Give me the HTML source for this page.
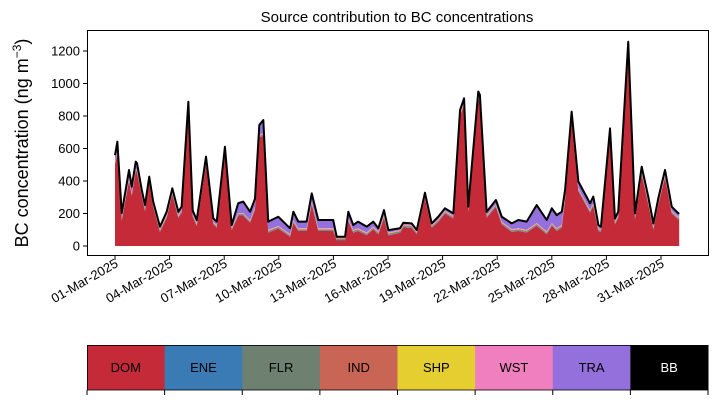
<!DOCTYPE html>
<html><head><meta charset="utf-8"><style>
body{margin:0;background:#fff;}
svg{display:block;font-family:"Liberation Sans",sans-serif;}
</style></head><body>
<svg id="c" width="716" height="402"></svg>
<script>
const days=[0,0.13,0.37,0.77,0.92,1.14,1.21,1.47,1.65,1.88,2.10,2.47,2.84,3.15,3.48,3.66,4.03,4.27,4.49,5.0,5.40,5.59,6.04,6.41,6.77,7.05,7.42,7.69,7.93,8.15,8.42,8.97,9.62,9.80,10.07,10.53,10.81,11.17,11.99,12.18,12.64,12.82,13.09,13.35,13.83,14.19,14.47,14.78,15.02,15.66,15.84,16.30,16.58,17.03,17.40,17.76,18.13,18.59,18.96,19.18,19.41,19.96,20.05,20.42,20.93,21.25,21.80,22.16,22.62,23.17,23.72,24.00,24.27,24.55,24.73,25.09,25.46,26.10,26.28,26.56,26.7,27.20,27.47,27.65,28.20,28.57,28.94,29.30,29.58,29.85,30.22,30.59,30.95,31.0];
const dom=[501,564,155,400,307,461,452,307,214,389,240,86,173,317,173,204,840,180,122,502,132,112,563,96,185,185,143,222,667,677,82,107,56,143,92,92,256,92,92,34,34,153,81,92,66,102,71,173,65,81,115,111,72,295,111,147,199,168,799,866,209,902,882,173,240,132,86,92,82,124,72,124,92,113,287,769,338,205,246,91,86,676,132,173,1199,163,440,256,101,255,420,199,163,167];
const tra=[40,60,30,50,40,40,40,20,20,20,15,15,20,20,20,20,30,20,20,30,20,20,30,15,60,70,50,50,60,80,50,55,35,50,40,40,50,50,50,5,5,40,30,40,35,30,20,30,15,10,10,10,8,15,10,15,15,15,20,25,15,30,30,20,25,30,35,50,50,110,70,90,80,80,40,40,40,40,40,20,15,30,20,20,40,20,30,30,20,20,30,25,20,20];
const ene=[3,3,3,3,3,3,3,3,3,3,3,3,3,3,3,3,3,3,3,3,3,3,3,3,3,3,3,3,3,3,3,3,3,3,3,3,3,3,3,3,3,3,3,3,3,3,3,3,3,3,3,3,3,3,3,3,3,3,3,3,3,3,3,3,3,3,3,3,3,3,3,3,3,3,3,3,3,3,3,3,3,3,3,3,3,3,3,3,3,3,3,3,3,3];
const flr=[5,5,5,5,5,5,5,5,5,5,5,5,5,5,5,5,5,5,5,5,5,5,5,5,5,5,5,5,5,5,5,5,5,5,5,5,5,5,5,5,5,5,5,5,5,5,5,5,5,5,5,5,5,5,5,5,5,5,5,5,5,5,5,5,5,5,5,5,5,5,5,5,5,5,5,5,5,5,5,5,5,5,5,5,5,5,5,5,5,5,5,5,5,5];
const ind=[4,4,4,4,4,4,4,4,4,4,4,4,4,4,4,4,4,4,4,4,4,4,4,4,4,4,4,4,4,4,4,4,4,4,4,4,4,4,4,4,4,4,4,4,4,4,4,4,4,4,4,4,4,4,4,4,4,4,4,4,4,4,4,4,4,4,4,4,4,4,4,4,4,4,4,4,4,4,4,4,4,4,4,4,4,4,4,4,4,4,4,4,4,4];
const shp=[2,2,2,2,2,2,2,2,2,2,2,2,2,2,2,2,2,2,2,2,2,2,2,2,2,2,2,2,2,2,2,2,2,2,2,2,2,2,2,2,2,2,2,2,2,2,2,2,2,2,2,2,2,2,2,2,2,2,2,2,2,2,2,2,2,2,2,2,2,2,2,2,2,2,2,2,2,2,2,2,2,2,2,2,2,2,2,2,2,2,2,2,2,2];
const wst=[4,4,4,4,4,4,4,4,4,4,4,4,4,4,4,4,4,4,4,4,4,4,4,4,4,4,4,4,4,4,4,4,4,4,4,4,4,4,4,4,4,4,4,4,4,4,4,4,4,4,4,4,4,4,4,4,4,4,4,4,4,4,4,4,4,4,4,4,4,4,4,4,4,4,4,4,4,4,4,4,4,4,4,4,4,4,4,4,4,4,4,4,4,4];
const bb=[0,0,0,0,0,0,0,0,0,0,0,0,0,0,0,0,0,0,0,0,0,0,0,0,0,0,0,0,0,0,0,0,0,0,0,0,0,0,0,0,0,0,0,0,0,0,0,0,0,0,0,0,0,0,0,0,0,0,0,0,0,0,0,0,0,0,0,0,0,0,0,0,0,0,0,0,0,0,0,0,0,0,0,0,0,0,0,0,0,0,0,0,0,0];
const categories=["DOM","ENE","FLR","IND","SHP","WST","TRA","BB"];
const colors=["#c42a37","#3a7bb5","#6e8070","#c86555","#e5cf30","#f07fbf","#9370db","#000000"];
const yTicks=[0,200,400,600,800,1000,1200];
const xTickDays=[0,3,6,9,12,15,18,21,24,27,30];
const xTickLabels=["01-Mar-2025","04-Mar-2025","07-Mar-2025","10-Mar-2025","13-Mar-2025","16-Mar-2025","19-Mar-2025","22-Mar-2025","25-Mar-2025","28-Mar-2025","31-Mar-2025"];

const NS="http://www.w3.org/2000/svg";
const svg=document.getElementById('c');
function mk(t,a,p){const e=document.createElementNS(NS,t);for(const k in a)e.setAttribute(k,a[k]);(p||svg).appendChild(e);return e;}
const X=d=>115+d*18.2;
const Y=v=>246-v*0.1625;
const series=[dom,ene,flr,ind,shp,wst,tra,bb];
const base=days.map(()=>0);
series.forEach((s,i)=>{
  const top=base.map((b,j)=>b+s[j]);
  let pts=days.map((d,j)=>X(d)+','+Y(top[j]));
  for(let j=days.length-1;j>=0;j--)pts.push(X(days[j])+','+Y(base[j]));
  const p=mk('polygon',{points:pts.join(' '),fill:colors[i],stroke:'none'});
  
  
  top.forEach((v,j)=>base[j]=v);
});
const tl=mk('polyline',{points:days.map((d,j)=>X(d)+','+Y(base[j])).join(' '),fill:'none',stroke:'#000','stroke-width':2,'stroke-linejoin':'round'});


const fr=mk('rect',{x:87.5,y:30.5,width:621,height:225,fill:'none',stroke:'#000','stroke-width':1});


yTicks.forEach(v=>{
  mk('line',{x1:83,x2:87.5,y1:Y(v),y2:Y(v),stroke:'#000'});
  const t=mk('text',{x:80,y:Y(v)+4.5,'text-anchor':'end','font-size':13});
  t.textContent=v;
  
  
});
xTickDays.forEach((d,i)=>{
  mk('line',{x1:X(d),x2:X(d),y1:255.5,y2:260,stroke:'#000'});
  const t=mk('text',{x:X(d)+4,y:266,'text-anchor':'end','font-size':13,transform:`rotate(-30 ${X(d)+4} 266)`});
  t.textContent=xTickLabels[i];
  
  
});
const tt=mk('text',{x:397,y:22,'text-anchor':'middle','font-size':15});
tt.textContent='Source contribution to BC concentrations';


const yl=mk('text',{x:28,y:143,'text-anchor':'middle','font-size':18,transform:'rotate(-90 28 143)'});
yl.innerHTML='BC concentration (ng m<tspan dy="-7" font-size="12">−3</tspan><tspan dy="7">)</tspan>';


const w=621/8;
categories.forEach((c,i)=>{
  const r=mk('rect',{x:87+i*w,y:345,width:w+0.5,height:45,fill:colors[i]});
  
  
  const t=mk('text',{x:87+i*w+w/2,y:372,'text-anchor':'middle','font-size':13,fill:c==='BB'?'#fff':'#000'});
  t.textContent=c;
  
  
});
for(let i=0;i<=8;i++)mk('line',{x1:87+i*w,x2:87+i*w,y1:390,y2:395,stroke:'#000'});
mk('rect',{x:87.5,y:345.5,width:620,height:44.5,fill:'none',stroke:'#000','stroke-width':0.8});
</script>
</body></html>
